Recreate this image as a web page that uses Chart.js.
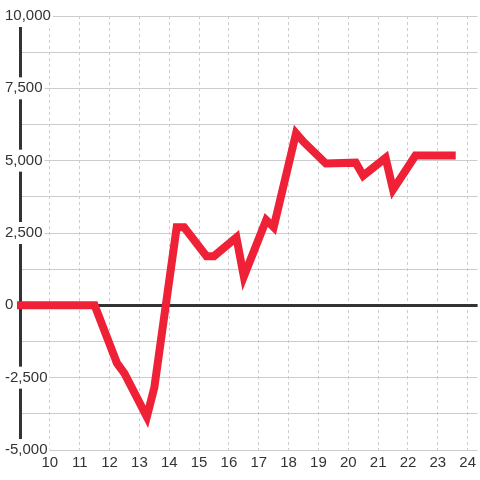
<!DOCTYPE html>
<html>
<head>
<meta charset="utf-8">
<script src="https://cdn.jsdelivr.net/npm/chart.js@4"></script>
<style>
  html, body { margin: 0; padding: 0; background: #fff; }
  #wrap { width: 480px; height: 480px; }
</style>
</head>
<body>
<div id="wrap"><canvas id="chart" width="480" height="480"></canvas></div>
<script>
// values
var xValues = [8.9, 11.5, 12.25, 12.5, 13.25, 13.5, 14.25, 14.5, 15.25, 15.5, 16.25, 16.5,
               17.25, 17.5, 18.25, 18.5, 19.25, 20.25, 20.5, 21.25, 21.5, 22.25, 23.6];
var yValues = [0, 0, -2000, -2350, -3850, -2850, 2700, 2700, 1700, 1700, 2350, 1000,
               2950, 2700, 5950, 5650, 4900, 4930, 4480, 5100, 4000, 5180, 5180];
var xTickLabels = [10, 11, 12, 13, 14, 15, 16, 17, 18, 19, 20, 21, 22, 23, 24];
var yTickLabels = [-5000, -2500, 0, 2500, 5000, 7500, 10000];

var points = xValues.map(function(x, i) { return {x: x, y: yValues[i]}; });

Chart.defaults.font.family = "'Liberation Sans', Arial, sans-serif";
Chart.defaults.font.size = 15;
Chart.defaults.color = '#333';

var chart = new Chart('chart', {
  type: 'line',
  data: {
    datasets: [{
      data: points,
      borderColor: '#ee2136',
      borderWidth: 8,
      borderJoinStyle: 'miter',
      borderCapStyle: 'butt',
      pointRadius: 0,
      tension: 0,
      fill: false,
      clip: false
    }]
  },
  options: {
    responsive: false,
    animation: false,
    layout: { padding: { left: 20, top: 16, right: 0, bottom: 4 } },
    plugins: { legend: { display: false }, tooltip: { enabled: false } },
    scales: {
      x: {
        type: 'linear',
        min: 9,
        max: 24.333,
        ticks: {
          z: 1,   // keep "10" above the -5,000 label box
          stepSize: 1,
          includeBounds: false,
          padding: 4,
          maxRotation: 0,
          autoSkip: false,
          callback: function(v) { return xTickLabels.indexOf(v) >= 0 ? String(v) : ''; }
        },
        grid: {
          drawTicks: false,
          color: function(c) { return c.tick && c.tick.value < 10 ? 'rgba(0,0,0,0)' : '#cccccc'; }
        },
        border: { display: false, dash: [3, 3] }
      },
      y: {
        min: -5000,
        max: 10000,
        // labels sit over the axis line, so the axis box takes no room
        afterFit: function(scale) { scale.width = 0; },
        ticks: {
          stepSize: 1250,
          mirror: true,
          padding: -15,
          crossAlign: 'near',
          showLabelBackdrop: function(c) { return yTickLabels.indexOf(c.tick.value) >= 0; },
          backdropColor: '#ffffff',
          backdropPadding: 2,
          callback: function(v) {
            return yTickLabels.indexOf(v) >= 0 ? v.toLocaleString('en-US') : '';
          }
        },
        grid: {
          drawTicks: false,
          color: function(c) { return c.tick && c.tick.value === 0 ? '#333333' : '#cccccc'; },
          lineWidth: function(c) { return c.tick && c.tick.value === 0 ? 3 : 1; }
        },
        border: { display: true, width: 3, color: '#333333' }
      }
    }
  }
});
</script>
</body>
</html>
